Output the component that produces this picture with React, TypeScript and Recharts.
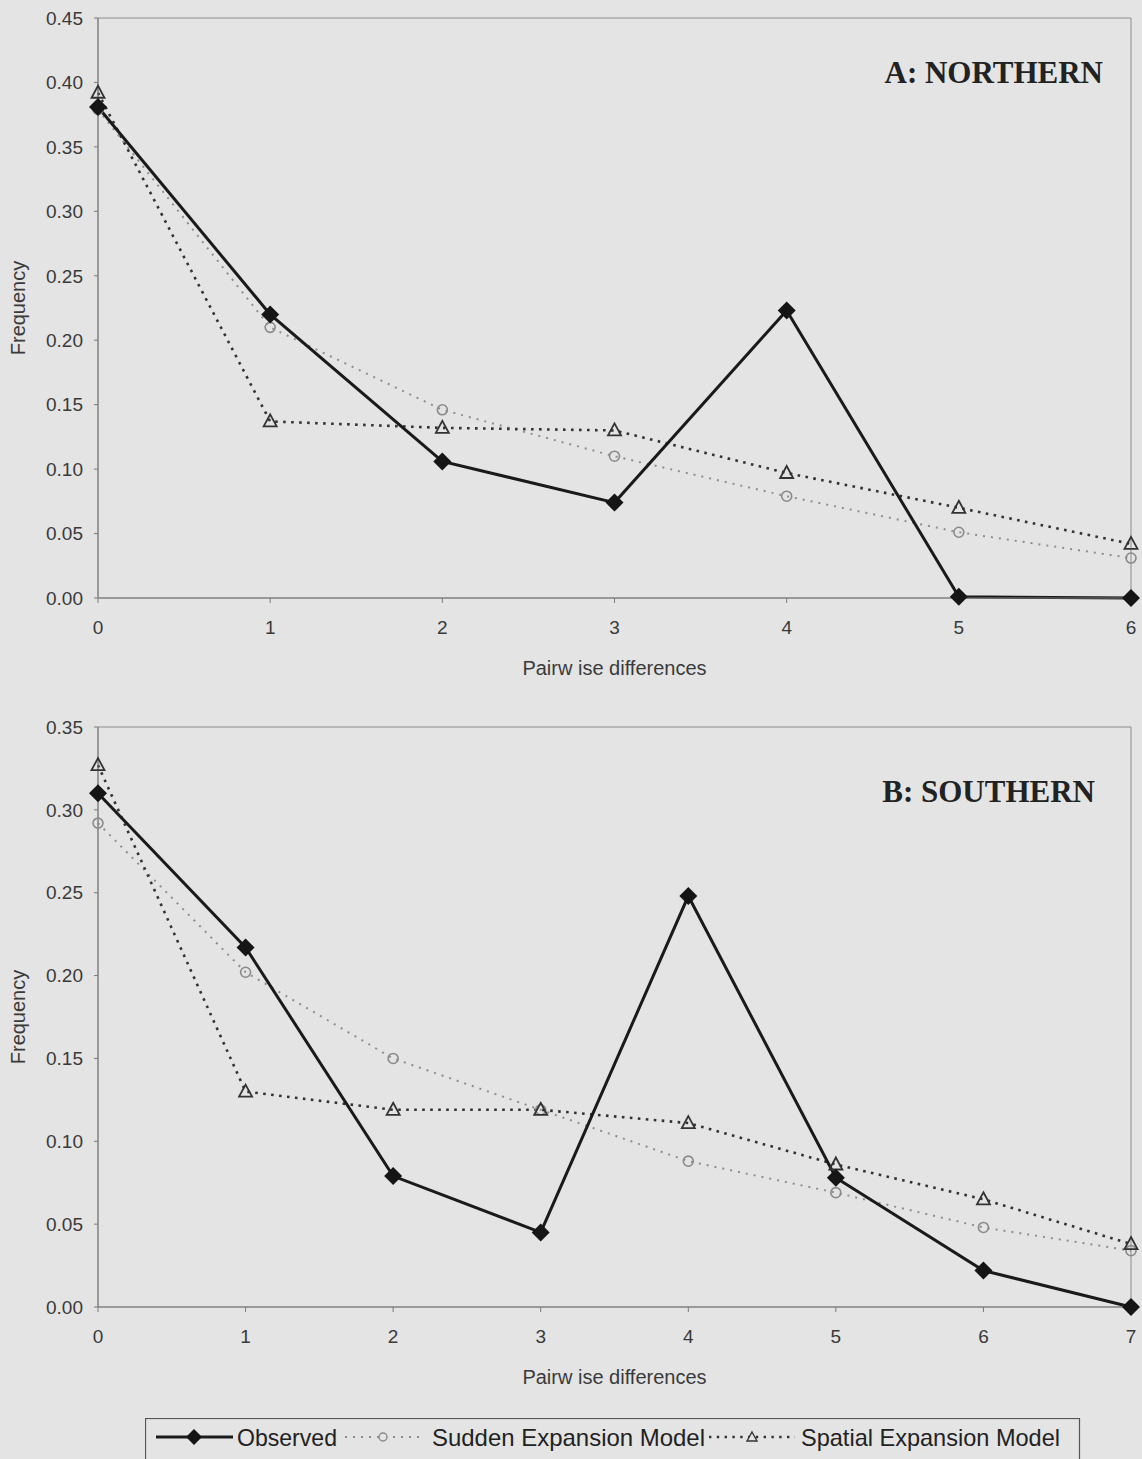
import React from "react";
import { LineChart, Line, XAxis, YAxis, ReferenceArea } from "recharts";

// pairwise differences and frequencies
const diffsA = [0, 1, 2, 3, 4, 5, 6];
const observedA = [0.381, 0.22, 0.106, 0.074, 0.223, 0.001, 0.0];
const suddenA = [0.379, 0.21, 0.146, 0.11, 0.079, 0.051, 0.031];
const spatialA = [0.392, 0.137, 0.132, 0.13, 0.097, 0.07, 0.042];

const diffsB = [0, 1, 2, 3, 4, 5, 6, 7];
const observedB = [0.31, 0.217, 0.079, 0.045, 0.248, 0.078, 0.022, 0.0];
const suddenB = [0.292, 0.202, 0.15, 0.119, 0.088, 0.069, 0.048, 0.034];
const spatialB = [0.327, 0.13, 0.119, 0.119, 0.111, 0.086, 0.065, 0.038];

const yTicksA = [0, 0.05, 0.1, 0.15, 0.2, 0.25, 0.3, 0.35, 0.4, 0.45];
const yTicksB = [0, 0.05, 0.1, 0.15, 0.2, 0.25, 0.3, 0.35];

const seriesNames = ["Observed", "Sudden Expansion Model", "Spatial Expansion Model"];

const BG = "#e4e4e4";
const AXIS = "#7a7a7a";
const SANS = "'Liberation Sans', Arial, sans-serif";

const rows = (x: number[], o: number[], s: number[], p: number[]) =>
  x.map((d, i) => ({ diff: d, observed: o[i], sudden: s[i], spatial: p[i] }));

const diamond = (props: any) => {
  const { cx, cy, index } = props;
  if (cx == null || cy == null) return <g key={`dm-${index}`} />;
  return <polygon key={`dm-${index}`} points={`${cx},${cy - 9} ${cx + 9},${cy} ${cx},${cy + 9} ${cx - 9},${cy}`} fill="#151515" />;
};
const ring = (props: any) => {
  const { cx, cy, index } = props;
  if (cx == null || cy == null) return <g key={`rg-${index}`} />;
  return <circle key={`rg-${index}`} cx={cx} cy={cy} r={5} fill="none" stroke="#8a8a8a" strokeWidth={1.6} />;
};
const triangle = (props: any) => {
  const { cx, cy, index } = props;
  if (cx == null || cy == null) return <g key={`tr-${index}`} />;
  return <polygon key={`tr-${index}`} points={`${cx},${cy - 7} ${cx + 6.5},${cy + 5} ${cx - 6.5},${cy + 5}`} fill="none" stroke="#333" strokeWidth={1.8} />;
};

function Panel({ data, xTicks, yTicks, yMax, top }: { data: any[]; xTicks: number[]; yTicks: number[]; yMax: number; top: number }) {
  const xMax = xTicks[xTicks.length - 1];
  return (
    <LineChart width={1142} height={top + 685} data={data} margin={{ top, right: 11, left: 0, bottom: 0 }}>
      <XAxis
        dataKey="diff"
        type="number"
        domain={[0, xMax]}
        ticks={xTicks}
        height={105}
        tickSize={5}
        tickMargin={18}
        stroke={AXIS}
        tick={{ fontSize: 19, fill: "#3a3a3a", fontFamily: SANS }}
        label={{
          content: (p: any) => (
            <text x={p.viewBox.x + p.viewBox.width / 2} y={p.viewBox.y + 70} textAnchor="middle" dominantBaseline="central" fontSize={20} fill="#3a3a3a" fontFamily={SANS}>
              Pairw ise differences
            </text>
          ),
        }}
      />
      <YAxis
        type="number"
        domain={[0, yMax]}
        ticks={yTicks}
        width={98}
        tickSize={4}
        tickMargin={11}
        stroke={AXIS}
        tickFormatter={(v: number) => v.toFixed(2)}
        tick={{ fontSize: 19, fill: "#3a3a3a", fontFamily: SANS }}
        label={{
          content: (p: any) => {
            const cy = p.viewBox.y + p.viewBox.height / 2;
            return (
              <text x={18} y={cy} transform={`rotate(-90, 18, ${cy})`} textAnchor="middle" dominantBaseline="central" fontSize={20} fill="#3a3a3a" fontFamily={SANS}>
                Frequency
              </text>
            );
          },
        }}
      />
      <ReferenceArea x1={0} x2={xMax} y1={0} y2={yMax} fill="none" stroke="#8c8c8c" strokeWidth={1} />
      <Line dataKey="sudden" name={seriesNames[1]} stroke="#8e8e8e" strokeWidth={2} strokeDasharray="2 6" dot={ring} activeDot={false} isAnimationActive={false} />
      <Line dataKey="spatial" name={seriesNames[2]} stroke="#333" strokeWidth={2.6} strokeDasharray="2.6 5.4" dot={triangle} activeDot={false} isAnimationActive={false} />
      <Line dataKey="observed" name={seriesNames[0]} stroke="#1a1a1a" strokeWidth={3} dot={diamond} activeDot={false} isAnimationActive={false} />
    </LineChart>
  );
}

function LegendBox() {
  const cy = 19;
  const txt = { dominantBaseline: "central" as const, fontSize: 24, fontFamily: SANS, fill: "#222" };
  return (
    <svg width={990} height={41} style={{ position: "absolute", left: 145, top: 1418 }}>
      <rect x={0.5} y={0.5} width={934} height={80} fill="none" stroke="#555" strokeWidth={1.2} />
      <line x1={11} y1={cy} x2={88} y2={cy} stroke="#1a1a1a" strokeWidth={3} />
      <polygon points={`49,${cy - 8} 57,${cy} 49,${cy + 8} 41,${cy}`} fill="#151515" />
      <text x={92} y={cy} {...txt} textLength={100} lengthAdjust="spacingAndGlyphs">
        {seriesNames[0]}
      </text>
      <line x1={200} y1={cy} x2={277} y2={cy} stroke="#8e8e8e" strokeWidth={2} strokeDasharray="2 6" />
      <circle cx={238} cy={cy} r={4} fill={BG} stroke="#8a8a8a" strokeWidth={1.4} />
      <text x={287} y={cy} {...txt} textLength={273} lengthAdjust="spacingAndGlyphs">
        {seriesNames[1]}
      </text>
      <line x1={564} y1={cy} x2={650} y2={cy} stroke="#333" strokeWidth={2.4} strokeDasharray="2.4 5.4" />
      <polygon points={`607,${cy - 5} 612,${cy + 4} 602,${cy + 4}`} fill={BG} stroke="#333" strokeWidth={1.4} />
      <text x={656} y={cy} {...txt} textLength={259} lengthAdjust="spacingAndGlyphs">
        {seriesNames[2]}
      </text>
    </svg>
  );
}

const titleStyle: React.CSSProperties = {
  position: "absolute",
  fontFamily: "'Liberation Serif', 'Times New Roman', serif",
  fontWeight: 700,
  fontSize: 31,
  lineHeight: "31px",
  color: "#222",
  whiteSpace: "nowrap",
};

export default function App() {
  return (
    <div style={{ position: "absolute", left: 0, top: 0, width: 1142, height: 1459, background: BG, overflow: "hidden" }}>
      <div style={{ position: "absolute", left: 0, top: 0 }}>
        <Panel data={rows(diffsA, observedA, suddenA, spatialA)} xTicks={diffsA} yTicks={yTicksA} yMax={0.45} top={18} />
      </div>
      <div style={{ position: "absolute", left: 0, top: 700 }}>
        <Panel data={rows(diffsB, observedB, suddenB, spatialB)} xTicks={diffsB} yTicks={yTicksB} yMax={0.35} top={27} />
      </div>
      <div style={{ ...titleStyle, right: 39, top: 57 }}>A: NORTHERN</div>
      <div style={{ ...titleStyle, right: 47, top: 776 }}>B: SOUTHERN</div>
      <LegendBox />
    </div>
  );
}
